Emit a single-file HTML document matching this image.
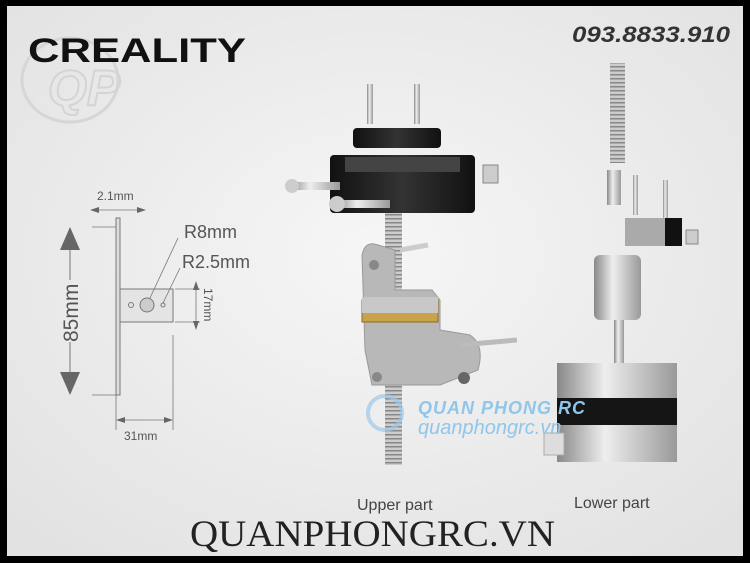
<!DOCTYPE html>
<html><head><meta charset="utf-8"><style>
html,body{margin:0;padding:0;background:#000;}
svg{display:block;}
</style></head><body>
<svg width="750" height="563" viewBox="0 0 750 563" xmlns="http://www.w3.org/2000/svg">
<defs>
<radialGradient id="bg" cx="0.5" cy="0.45" r="0.7">
<stop offset="0" stop-color="#f6f6f6"/><stop offset="1" stop-color="#e2e2e2"/></radialGradient>
<linearGradient id="met" x1="0" x2="1"><stop offset="0" stop-color="#888"/><stop offset="0.4" stop-color="#eee"/><stop offset="1" stop-color="#999"/></linearGradient>
<linearGradient id="blk" x1="0" x2="1"><stop offset="0" stop-color="#111"/><stop offset="0.5" stop-color="#333"/><stop offset="1" stop-color="#111"/></linearGradient>
<pattern id="thr" width="6" height="4" patternUnits="userSpaceOnUse"><rect width="6" height="4" fill="#ccc"/><rect y="2" width="6" height="1.5" fill="#888"/></pattern>
</defs>
<rect x="7" y="6" width="736" height="550" fill="url(#bg)"/>
<ellipse cx="70" cy="80" rx="48" ry="42" fill="none" stroke="#d6d6d6" stroke-width="3"/>
<text x="48" y="105" font-family="Liberation Sans,sans-serif" font-size="50" font-style="italic" font-weight="bold" fill="none" stroke="#d4d4d4" stroke-width="2">QP</text>
<text x="28" y="62" font-family="Liberation Sans,sans-serif" font-size="34" font-weight="bold" fill="#111" textLength="218" lengthAdjust="spacingAndGlyphs">CREALITY</text>
<text x="572" y="42" font-family="Liberation Sans,sans-serif" font-size="22" font-weight="bold" font-style="italic" fill="#333" textLength="158" lengthAdjust="spacingAndGlyphs">093.8833.910</text>
<g fill="#666" stroke="#777" font-family="Liberation Sans,sans-serif">
<text x="97" y="200" font-size="12" stroke="none" fill="#555">2.1mm</text>
<line x1="92" y1="210" x2="145" y2="210" stroke-width="0.8"/>
<polygon points="90,210 99,207 99,213" stroke="none"/><polygon points="146,210 137,207 137,213" stroke="none"/>
<rect x="116" y="218" width="4" height="177" fill="#ddd" stroke="#777"/>
<rect x="120" y="289" width="53" height="33" fill="#e4e4e4" stroke="#777"/>
<circle cx="147" cy="305" r="7" fill="#ccc"/><circle cx="131" cy="305" r="2.5" fill="none"/><circle cx="163" cy="305" r="2" fill="none"/>
<line x1="150" y1="298" x2="178" y2="238" stroke-width="0.8"/><line x1="163" y1="303" x2="180" y2="268" stroke-width="0.8"/>
<line x1="92" y1="227" x2="116" y2="227" stroke-width="0.8"/><line x1="92" y1="395" x2="116" y2="395" stroke-width="0.8"/>
<polygon points="70,227 60,250 80,250" stroke="none"/><polygon points="70,395 60,372 80,372" stroke="none"/>
<line x1="70" y1="250" x2="70" y2="280" stroke-width="1"/><line x1="70" y1="342" x2="70" y2="372" stroke-width="1"/>
<text transform="translate(78,342) rotate(-90)" font-size="21" stroke="none" fill="#555">85mm</text>
<line x1="175" y1="289" x2="200" y2="289" stroke-width="0.8"/><line x1="175" y1="322" x2="200" y2="322" stroke-width="0.8"/>
<line x1="196" y1="285" x2="196" y2="326" stroke-width="0.8"/>
<polygon points="196,281 193,290 199,290" stroke="none"/><polygon points="196,330 193,321 199,321" stroke="none"/>
<text transform="translate(204,288) rotate(90)" font-size="12" stroke="none" fill="#555">17mm</text>
<text x="184" y="238" font-size="18" stroke="none" fill="#555">R8mm</text>
<text x="182" y="268" font-size="18" stroke="none" fill="#555">R2.5mm</text>
<line x1="116" y1="395" x2="116" y2="430" stroke-width="0.8"/><line x1="173" y1="335" x2="173" y2="430" stroke-width="0.8"/>
<line x1="118" y1="420" x2="171" y2="420" stroke-width="0.8"/>
<polygon points="116,420 125,417 125,423" stroke="none"/><polygon points="173,420 164,417 164,423" stroke="none"/>
<text x="124" y="440" font-size="12" stroke="none" fill="#555">31mm</text>
</g>
<rect x="385" y="210" width="17" height="255" fill="url(#thr)"/>
<path d="M362 255 Q365 240 378 245 L395 250 L395 290 L432 290 L440 300 L440 330 L470 335 Q485 345 478 370 L440 385 L372 385 L365 350 Z" fill="#b8b8b8" stroke="#999"/>
<rect x="362" y="300" width="76" height="22" fill="#c9a24a" stroke="#8b6a22"/>
<rect x="362" y="297" width="76" height="16" fill="#c8c8c8"/>
<line x1="460" y1="345" x2="517" y2="340" stroke="#bbb" stroke-width="5"/>
<line x1="400" y1="250" x2="428" y2="245" stroke="#ccc" stroke-width="5"/>
<circle cx="374" cy="265" r="5" fill="#888"/><circle cx="377" cy="377" r="5" fill="#888"/><circle cx="464" cy="378" r="6" fill="#666"/>
<rect x="353" y="128" width="88" height="20" rx="4" fill="url(#blk)"/>
<rect x="367" y="84" width="6" height="40" fill="url(#met)"/><rect x="414" y="84" width="6" height="40" fill="url(#met)"/>
<rect x="330" y="155" width="145" height="58" rx="4" fill="url(#blk)"/>
<rect x="345" y="157" width="115" height="15" fill="#444"/>
<rect x="290" y="182" width="50" height="8" fill="url(#met)"/><circle cx="292" cy="186" r="7" fill="#ccc"/>
<rect x="335" y="200" width="55" height="8" fill="url(#met)"/><circle cx="337" cy="204" r="8" fill="#ccc"/>
<rect x="483" y="165" width="15" height="18" fill="#ccc" stroke="#888"/>
<rect x="610" y="63" width="15" height="100" fill="url(#thr)"/>
<rect x="607" y="170" width="14" height="35" fill="url(#met)"/>
<rect x="633" y="175" width="5" height="40" fill="url(#met)"/><rect x="663" y="180" width="5" height="40" fill="url(#met)"/>
<rect x="625" y="218" width="40" height="28" fill="#aaa"/><rect x="665" y="218" width="17" height="28" fill="#111"/>
<rect x="686" y="230" width="12" height="14" fill="#ccc" stroke="#888"/>
<rect x="594" y="255" width="47" height="65" rx="6" fill="url(#met)"/>
<rect x="614" y="320" width="10" height="45" fill="url(#met)"/>
<rect x="557" y="363" width="120" height="36" fill="url(#met)"/>
<rect x="557" y="398" width="120" height="27" fill="#151515"/>
<rect x="557" y="425" width="120" height="37" fill="url(#met)"/>
<rect x="544" y="433" width="20" height="22" fill="#ddd" stroke="#aaa"/>
<circle cx="385" cy="413" r="17" fill="none" stroke="#9cc8e8" stroke-width="4" opacity="0.7"/>
<text x="418" y="414" font-family="Liberation Sans,sans-serif" font-size="18" font-style="italic" font-weight="bold" fill="#8ec6ec" letter-spacing="1">QUAN PHONG RC</text>
<text x="418" y="434" font-family="Liberation Sans,sans-serif" font-size="20" font-style="italic" fill="#8ec6ec">quanphongrc.vn</text>
<text x="357" y="510" font-family="Liberation Sans,sans-serif" font-size="16" fill="#444">Upper part</text>
<text x="574" y="508" font-family="Liberation Sans,sans-serif" font-size="16" fill="#444">Lower part</text>
<text x="190" y="546" font-family="Liberation Serif,serif" font-size="37" fill="#222" textLength="365" lengthAdjust="spacingAndGlyphs">QUANPHONGRC.VN</text>
</svg>
</body></html>
